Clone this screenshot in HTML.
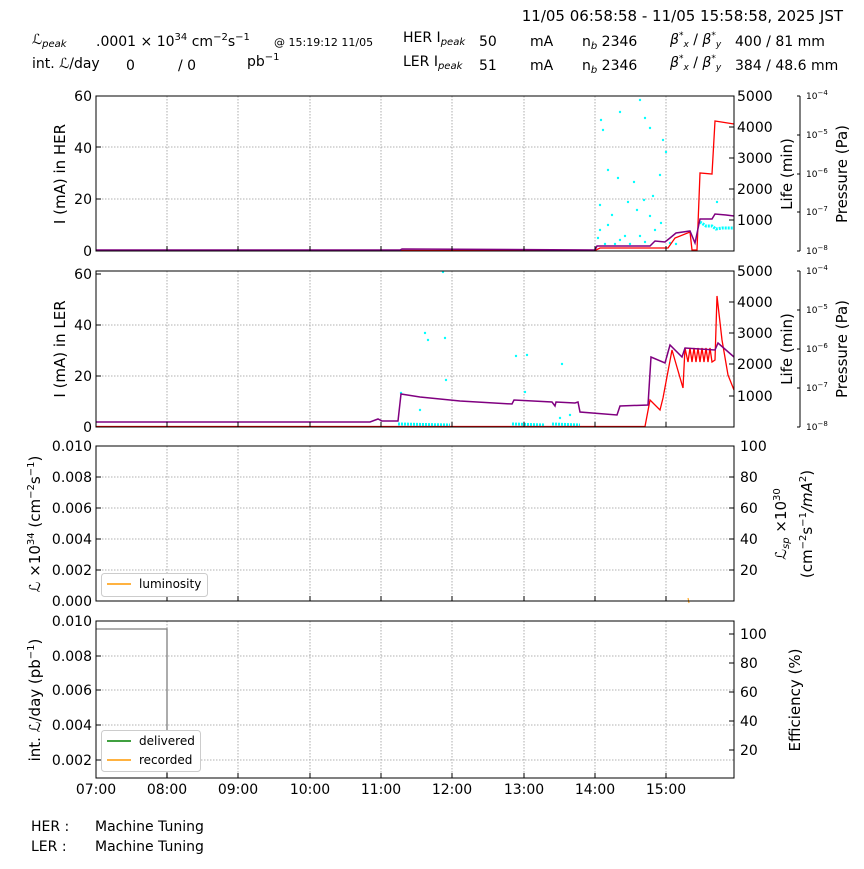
<!DOCTYPE html>
<html><head><meta charset="utf-8"><style>
body{margin:0;background:#fff;width:864px;height:864px;overflow:hidden;font-family:"Liberation Sans","DejaVu Sans",sans-serif}
svg text{font-family:"DejaVu Sans","Liberation Sans",sans-serif;fill:#000}
</style></head><body>
<svg width="864" height="864" viewBox="0 0 864 864" xmlns="http://www.w3.org/2000/svg">
<defs>
<g id="vgrid" stroke="#999" stroke-width="0.8" stroke-dasharray="1.5,1.5">
<line x1="167" y1="0" x2="167" y2="1"/></g>
</defs>
<!-- header -->
<text x="843" y="21" font-size="15" text-anchor="end">11/05 06:58:58 - 11/05 15:58:58, 2025 JST</text>
<text x="32" y="44" font-size="14" font-style="italic">ℒ<tspan font-size="10" dy="3">peak</tspan></text>
<text x="96" y="46" font-size="14">.0001  × 10<tspan font-size="10" dy="-6">34</tspan><tspan dy="6"> cm</tspan><tspan font-size="10" dy="-6">−2</tspan><tspan dy="6">s</tspan><tspan font-size="10" dy="-6">−1</tspan></text>
<text x="274" y="46" font-size="11">@ 15:19:12 11/05</text>
<text x="403" y="42" font-size="14">HER I<tspan font-size="10" font-style="italic" dy="3">peak</tspan></text>
<text x="479" y="46" font-size="14">50</text><text x="530" y="46" font-size="14">mA</text>
<text x="582" y="46" font-size="14">n<tspan font-size="10" font-style="italic" dy="3">b</tspan><tspan dy="-3"> 2346</tspan></text>
<text x="670" y="44" font-size="14" font-style="italic">β<tspan font-size="9" dy="-6">*</tspan><tspan font-size="9" dy="9">x</tspan><tspan dy="-3" font-style="normal"> / </tspan>β<tspan font-size="9" dy="-6">*</tspan><tspan font-size="9" dy="9">y</tspan></text>
<text x="735" y="46" font-size="14">400  / 81    mm</text>
<text x="32" y="68" font-size="14">int. <tspan font-style="italic">ℒ</tspan>/day</text>
<text x="126" y="70" font-size="14">0</text><text x="178" y="70" font-size="14">/  0</text>
<text x="247" y="66" font-size="14">pb<tspan font-size="10" dy="-6">−1</tspan></text>
<text x="403" y="66" font-size="14">LER I<tspan font-size="10" font-style="italic" dy="3">peak</tspan></text>
<text x="479" y="70" font-size="14">51</text><text x="530" y="70" font-size="14">mA</text>
<text x="582" y="70" font-size="14">n<tspan font-size="10" font-style="italic" dy="3">b</tspan><tspan dy="-3"> 2346</tspan></text>
<text x="670" y="67" font-size="14" font-style="italic">β<tspan font-size="9" dy="-6">*</tspan><tspan font-size="9" dy="9">x</tspan><tspan dy="-3" font-style="normal"> / </tspan>β<tspan font-size="9" dy="-6">*</tspan><tspan font-size="9" dy="9">y</tspan></text>
<text x="735" y="70" font-size="14">384  / 48.6 mm</text>

<!-- grids -->
<g stroke="#999" stroke-width="0.8" stroke-dasharray="1.5,1.5" fill="none">
<path d="M167,96V251M238,96V251M310,96V251M381,96V251M452,96V251M524,96V251M595,96V251M666,96V251M96,199H734M96,147H734"/>
<path d="M167,271V427M238,271V427M310,271V427M381,271V427M452,271V427M524,271V427M595,271V427M666,271V427M96,376H734M96,325H734"/>
<path d="M167,446V601M238,446V601M310,446V601M381,446V601M452,446V601M524,446V601M595,446V601M666,446V601M96,570H734M96,539H734M96,508H734M96,477H734"/>
<path d="M167,621V778M238,621V778M310,621V778M381,621V778M452,621V778M524,621V778M595,621V778M666,621V778M96,760H734M96,725H734M96,690H734M96,656H734"/>
</g>

<!-- panel 1 data -->
<g fill="#0ff" font-size="0">
<circle cx="603" cy="130" r="1.2"/><circle cx="601" cy="120" r="1.2"/><circle cx="608" cy="170" r="1.2"/><circle cx="620" cy="112" r="1.2"/><circle cx="640" cy="100" r="1.2"/><circle cx="645" cy="118" r="1.2"/><circle cx="650" cy="128" r="1.2"/><circle cx="663" cy="140" r="1.2"/><circle cx="666" cy="152" r="1.2"/><circle cx="634" cy="182" r="1.2"/><circle cx="618" cy="178" r="1.2"/><circle cx="628" cy="202" r="1.2"/><circle cx="600" cy="205" r="1.2"/><circle cx="612" cy="215" r="1.2"/><circle cx="644" cy="200" r="1.2"/><circle cx="653" cy="196" r="1.2"/><circle cx="637" cy="210" r="1.2"/><circle cx="608" cy="225" r="1.2"/><circle cx="625" cy="236" r="1.2"/><circle cx="598" cy="238" r="1.2"/><circle cx="640" cy="236" r="1.2"/><circle cx="655" cy="230" r="1.2"/><circle cx="660" cy="175" r="1.2"/><circle cx="620" cy="240" r="1.2"/><circle cx="630" cy="244" r="1.2"/><circle cx="605" cy="244" r="1.2"/><circle cx="645" cy="242" r="1.2"/><circle cx="615" cy="244" r="1.2"/><circle cx="650" cy="216" r="1.2"/><circle cx="600" cy="230" r="1.2"/><circle cx="670" cy="243" r="1.2"/><circle cx="676" cy="244" r="1.2"/><circle cx="717" cy="202" r="1.2"/><circle cx="661" cy="223" r="1.2"/>
</g>
<path d="M700,222 L706,226 L712,226 L716,229 L722,228 L734,228" stroke="#0ff" stroke-width="3" fill="none" stroke-dasharray="2,1"/>
<path d="M96,250.5 L595,250.5 L600,248 L668,248 L675,238 L690,232 L692,250 L697,250 L700,173 L712,174 L715,121 L734,124" stroke="#f00" stroke-width="1.3" fill="none"/>
<path d="M96,250 L400,250 L402,249 L595,250 L597,246 L650,246 L655,241 L665,242 L670,238 L676,233 L690,231 L695,243 L700,219 L712,219 L715,214 L726,215 L734,216" stroke="#800080" stroke-width="1.5" fill="none"/>

<!-- panel 2 data -->
<g fill="#0ff">
<circle cx="425" cy="333" r="1.2"/><circle cx="428" cy="340" r="1.2"/><circle cx="445" cy="338" r="1.2"/><circle cx="446" cy="380" r="1.2"/><circle cx="443" cy="272" r="1.2"/><circle cx="516" cy="356" r="1.2"/><circle cx="527" cy="355" r="1.2"/><circle cx="562" cy="364" r="1.2"/><circle cx="401" cy="393" r="1.2"/><circle cx="420" cy="410" r="1.2"/><circle cx="525" cy="392" r="1.2"/><circle cx="560" cy="418" r="1.2"/><circle cx="570" cy="415" r="1.2"/>
</g>
<path d="M398,424 L450,425 M512,424 L545,425 M552,424 L580,425" stroke="#0ff" stroke-width="3" stroke-dasharray="2,1" fill="none"/>
<path d="M96,426.5 L645,426.5 L650,400 L660,410 L663,398 L672,350 L683,388 L685,348 L688,362 L690,348 L692,362 L694,348 L696,362 L698,348 L700,362 L702,348 L704,362 L706,348 L708,362 L710,348 L712,362 L715,360 L717,296 L722,340 L728,375 L734,390" stroke="#f00" stroke-width="1.3" fill="none"/>
<path d="M96,422 L370,422 L378,419 L382,421 L398,421 L401,394 L420,397 L460,401 L512,404 L514,400 L552,402 L555,406 L556,402 L575,403 L578,402 L580,412 L617,415 L620,406 L648,405 L651,357 L665,363 L670,345 L682,357 L685,348 L715,350 L718,343 L734,357" stroke="#800080" stroke-width="1.5" fill="none"/>

<!-- panel 3/4 data -->
<line x1="688" y1="598" x2="689" y2="603" stroke="#f90" stroke-width="1"/>
<path d="M96,629 H167 V778" stroke="#808080" stroke-width="1.3" fill="none"/>

<!-- axes boxes -->
<g fill="none" stroke="#000" stroke-width="1">
<rect x="96" y="96" width="638" height="155"/>
<rect x="96" y="271" width="638" height="156"/>
<rect x="96" y="446" width="638" height="155"/>
<rect x="96" y="621" width="638" height="157"/>
</g>
<!-- ticks -->
<g stroke="#000" stroke-width="1">
<path d="M96,96h5M96,147h5M96,199h5M96,251h5M734,96h-5M734,127h-5M734,158h-5M734,189h-5M734,220h-5"/>
<path d="M96,274h5M96,325h5M96,376h5M96,427h5M734,271h-5M734,302h-5M734,333h-5M734,364h-5M734,396h-5"/>
<path d="M96,446h5M96,477h5M96,508h5M96,539h5M96,570h5M96,601h5M734,446h-5M734,477h-5M734,508h-5M734,539h-5M734,570h-5"/>
<path d="M96,621h5M96,656h5M96,690h5M96,725h5M96,760h5M734,634h-5M734,663h-5M734,692h-5M734,721h-5M734,750h-5"/>
<path d="M167,251v-5M238,251v-5M310,251v-5M381,251v-5M452,251v-5M524,251v-5M595,251v-5M666,251v-5"/>
<path d="M167,427v-5M238,427v-5M310,427v-5M381,427v-5M452,427v-5M524,427v-5M595,427v-5M666,427v-5"/>
<path d="M167,601v-5M238,601v-5M310,601v-5M381,601v-5M452,601v-5M524,601v-5M595,601v-5M666,601v-5"/>
<path d="M167,778v-5M238,778v-5M310,778v-5M381,778v-5M452,778v-5M524,778v-5M595,778v-5M666,778v-5"/>
<path d="M800,96V251M800,96h-3M800,135h-3M800,174h-3M800,212h-3M800,251h-3M800,271V427M800,271h-3M800,310h-3M800,349h-3M800,388h-3M800,427h-3"/>
</g>
<!-- tick labels -->
<g font-size="14" text-anchor="end">
<text x="92" y="101">60</text><text x="92" y="153">40</text><text x="92" y="204">20</text><text x="92" y="256">0</text>
<text x="92" y="279">60</text><text x="92" y="330">40</text><text x="92" y="381">20</text><text x="92" y="432">0</text>
<text x="92" y="451">0.010</text><text x="92" y="482">0.008</text><text x="92" y="513">0.006</text><text x="92" y="544">0.004</text><text x="92" y="575">0.002</text><text x="92" y="606">0.000</text>
<text x="92" y="626">0.010</text><text x="92" y="661">0.008</text><text x="92" y="695">0.006</text><text x="92" y="730">0.004</text><text x="92" y="765">0.002</text>
</g>
<g font-size="14">
<text x="737" y="101">5000</text><text x="737" y="132">4000</text><text x="737" y="163">3000</text><text x="737" y="194">2000</text><text x="737" y="225">1000</text>
<text x="737" y="276">5000</text><text x="737" y="307">4000</text><text x="737" y="338">3000</text><text x="737" y="369">2000</text><text x="737" y="401">1000</text>
<text x="740" y="451">100</text><text x="740" y="482">80</text><text x="740" y="513">60</text><text x="740" y="544">40</text><text x="740" y="575">20</text>
<text x="740" y="639">100</text><text x="740" y="668">80</text><text x="740" y="697">60</text><text x="740" y="726">40</text><text x="740" y="755">20</text>
</g>
<g font-size="9">
<text x="806" y="99">10<tspan dy="-4" font-size="7">−4</tspan></text><text x="806" y="138">10<tspan dy="-4" font-size="7">−5</tspan></text><text x="806" y="177">10<tspan dy="-4" font-size="7">−6</tspan></text><text x="806" y="215">10<tspan dy="-4" font-size="7">−7</tspan></text><text x="806" y="254">10<tspan dy="-4" font-size="7">−8</tspan></text>
<text x="806" y="274">10<tspan dy="-4" font-size="7">−4</tspan></text><text x="806" y="313">10<tspan dy="-4" font-size="7">−5</tspan></text><text x="806" y="352">10<tspan dy="-4" font-size="7">−6</tspan></text><text x="806" y="391">10<tspan dy="-4" font-size="7">−7</tspan></text><text x="806" y="430">10<tspan dy="-4" font-size="7">−8</tspan></text>
</g>
<g font-size="14" text-anchor="middle">
<text x="96" y="794">07:00</text><text x="167" y="794">08:00</text><text x="238" y="794">09:00</text><text x="310" y="794">10:00</text><text x="381" y="794">11:00</text><text x="452" y="794">12:00</text><text x="524" y="794">13:00</text><text x="595" y="794">14:00</text><text x="666" y="794">15:00</text>
</g>
<!-- axis titles -->
<g font-size="15" text-anchor="middle">
<text transform="translate(65,174) rotate(-90)">I (mA) in HER</text>
<text transform="translate(65,349) rotate(-90)">I (mA) in LER</text>
<text transform="translate(792,174) rotate(-90)">Life (min)</text>
<text transform="translate(792,349) rotate(-90)">Life (min)</text>
<text transform="translate(847,174) rotate(-90)">Pressure (Pa)</text>
<text transform="translate(847,349) rotate(-90)">Pressure (Pa)</text>
<text transform="translate(40,524) rotate(-90)"><tspan font-style="italic">ℒ</tspan> ×10<tspan font-size="10" dy="-6">34</tspan><tspan dy="6"> (cm</tspan><tspan font-size="10" dy="-6">−2</tspan><tspan dy="6">s</tspan><tspan font-size="10" dy="-6">−1</tspan><tspan dy="6">)</tspan></text>
<text transform="translate(786,524) rotate(-90)"><tspan font-style="italic">ℒ</tspan><tspan font-size="10" font-style="italic" dy="3">sp</tspan><tspan dy="-3"> ×10</tspan><tspan font-size="10" dy="-6">30</tspan></text>
<text transform="translate(812,524) rotate(-90)">(cm<tspan font-size="10" dy="-6">−2</tspan><tspan dy="6">s</tspan><tspan font-size="10" dy="-6">−1</tspan><tspan dy="6" font-style="italic">/mA</tspan><tspan font-size="10" dy="-6">2</tspan><tspan dy="6">)</tspan></text>
<text transform="translate(40,700) rotate(-90)">int. <tspan font-style="italic">ℒ</tspan>/day (pb<tspan font-size="10" dy="-6">−1</tspan><tspan dy="6">)</tspan></text>
<text transform="translate(800,700) rotate(-90)">Efficiency (%)</text>
</g>
<!-- legends -->
<rect x="101.5" y="573.5" width="106" height="23" rx="3" fill="#fff" stroke="#ccc"/>
<line x1="107" y1="584" x2="131" y2="584" stroke="#f90" stroke-width="1.5"/>
<text x="139" y="588" font-size="12">luminosity</text>
<rect x="101.5" y="730.5" width="99" height="41" rx="3" fill="#fff" stroke="#ccc"/>
<line x1="107" y1="741" x2="131" y2="741" stroke="#008000" stroke-width="1.5"/>
<text x="139" y="745" font-size="12">delivered</text>
<line x1="107" y1="760" x2="131" y2="760" stroke="#f90" stroke-width="1.5"/>
<text x="139" y="764" font-size="12">recorded</text>
<!-- footer -->
<text x="31" y="831" font-size="14">HER :</text><text x="95" y="831" font-size="14">Machine Tuning</text>
<text x="31" y="851" font-size="14">LER :</text><text x="95" y="851" font-size="14">Machine Tuning</text>
</svg>
</body></html>
